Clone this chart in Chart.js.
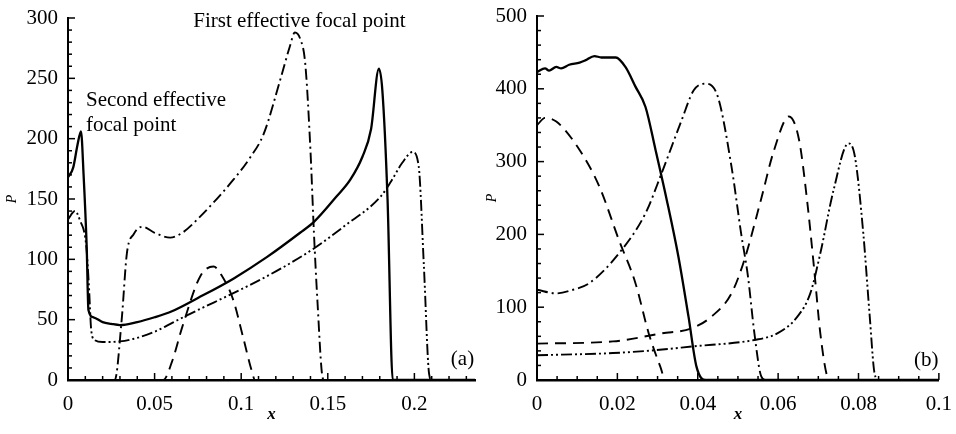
<!DOCTYPE html>
<html><head><meta charset="utf-8">
<script src="https://cdn.jsdelivr.net/npm/chart.js@4.4.1/dist/chart.umd.min.js"></script>
<style>
body{margin:0;background:#fff;width:956px;height:434px;overflow:hidden}
.w{position:absolute;top:0;height:434px}
</style></head><body>
<div class="w" style="left:0;width:480px"><canvas id="ca"></canvas></div>
<div class="w" style="left:480px;width:476px"><canvas id="cb"></canvas></div>
<script>
// ---------- Panel (a) data ----------
const aXTicks = [0, 0.05, 0.1, 0.15, 0.2];
const aYTicks = [0, 50, 100, 150, 200, 250, 300];
const aSolidX = [0, 0.003, 0.0055, 0.0075, 0.009, 0.0108, 0.0118, 0.0147, 0.02, 0.025, 0.03, 0.04, 0.05, 0.06, 0.075, 0.0955, 0.115, 0.134, 0.142, 0.155, 0.163, 0.17, 0.175, 0.1795, 0.1815, 0.1845, 0.1875, 0.19, 0.235];
const aSolidY = [168, 176, 195, 206, 170, 110, 58, 52, 48, 46.5, 45.5, 48, 52, 57, 68, 84, 102, 122, 131, 152, 166, 185, 208, 258, 240, 150, 0, 0, 0];
const aDashDotX = [0, 0.027, 0.031, 0.034, 0.038, 0.043, 0.05, 0.059, 0.066, 0.076, 0.0955, 0.105, 0.113, 0.123, 0.128, 0.131, 0.134, 0.137, 0.14, 0.142, 0.144, 0.147, 0.148, 0.235];
const aDashDotY = [0, 0, 50, 105, 121, 127, 122, 118, 122, 135, 166, 184, 204, 251, 276, 288, 283, 262, 190, 122, 66, 2, 0, 0];
const aDashX = [0, 0.055, 0.06, 0.066, 0.0764, 0.084, 0.089, 0.0955, 0.101, 0.106, 0.108, 0.235];
const aDashY = [0, 0, 15, 44, 86, 94, 86, 66, 36, 8, 0, 0];
const aDDDX = [0, 0.004, 0.007, 0.0104, 0.012, 0.0135, 0.0155, 0.02, 0.03, 0.0376, 0.05, 0.061, 0.075, 0.0955, 0.12, 0.142, 0.16, 0.1805, 0.1863, 0.193, 0.199, 0.2025, 0.2055, 0.2085, 0.21, 0.235];
const aDDDY = [133, 140, 132, 113, 80, 40, 33, 31.5, 32, 34, 40, 48, 58, 72, 90, 109, 128, 152, 164, 180, 189, 177, 94, 5, 0, 0];

// ---------- Panel (b) data ----------
const bXTicks = [0, 0.02, 0.04, 0.06, 0.08, 0.1];
const bYTicks = [0, 100, 200, 300, 400, 500];
const bSolidX = [0, 0.002, 0.003, 0.0048, 0.006, 0.008, 0.0106, 0.012, 0.0143, 0.016, 0.0196, 0.022, 0.0245, 0.027, 0.0295, 0.0323, 0.0352, 0.0377, 0.0397, 0.042, 0.1];
const bSolidY = [423, 428, 425, 430, 428, 433, 436, 439, 445, 443, 443, 430, 403, 375, 316, 247, 169, 87, 18, 0, 0];
const bDash1X = [0, 0.002, 0.0048, 0.0106, 0.0155, 0.0204, 0.0245, 0.0278, 0.0307, 0.032, 0.1];
const bDash1Y = [350, 360, 355, 316, 266, 192, 133, 64, 18, 0, 0];
const bDashDotX = [0, 0.0048, 0.009, 0.013, 0.0204, 0.027, 0.031, 0.036, 0.039, 0.0418, 0.045, 0.0484, 0.0508, 0.0525, 0.0541, 0.0558, 0.057, 0.1];
const bDashDotY = [124, 119, 124, 133, 174, 229, 284, 357, 398, 407, 389, 293, 201, 142, 64, 5, 0, 0];
const bDash2X = [0, 0.0189, 0.031, 0.0385, 0.0434, 0.0484, 0.0516, 0.0557, 0.059, 0.0627, 0.0652, 0.0672, 0.0689, 0.0705, 0.0722, 0.073, 0.1];
const bDash2Y = [50, 53, 64, 71, 87, 119, 165, 247, 316, 362, 330, 247, 156, 64, 5, 0, 0];
const bDDDX = [0, 0.0189, 0.0295, 0.0385, 0.0541, 0.0598, 0.0648, 0.068, 0.0705, 0.0738, 0.0775, 0.0791, 0.0812, 0.0828, 0.084, 0.085, 0.1];
const bDDDY = [34, 37, 41, 46, 55, 64, 87, 119, 174, 261, 325, 307, 201, 87, 9, 0, 0];

const SERIF = "'Liberation Serif','Times New Roman',serif";
const pts = (xs, ys) => xs.map((x, i) => ({x, y: ys[i]}));
const ds = (xs, ys, dash, w) => ({
  data: pts(xs, ys), borderColor: '#000', borderWidth: w, borderDash: dash,
  pointRadius: 0, cubicInterpolationMode: 'monotone', fill: false
});
const DASH = [11, 7], DD = [11, 4, 2, 4], DDD = [11, 3, 2, 3, 2, 3];
const fmt = v => String(+(+v).toFixed(4));

const inTicks = {
  id: 'inTicks',
  afterDraw(chart, args, o) {
    const ctx = chart.ctx, xs = chart.scales.x, ys = chart.scales.y, ca = chart.chartArea;
    ctx.save();
    ctx.strokeStyle = '#000';
    ctx.lineWidth = 1.5;
    const line = (x1, y1, x2, y2) => { ctx.beginPath(); ctx.moveTo(x1, y1); ctx.lineTo(x2, y2); ctx.stroke(); };
    for (let v = xs.min; v <= xs.max + 1e-9; v += o.xMinor) {
      const p = xs.getPixelForValue(v);
      const major = Math.abs(v / o.xMajor - Math.round(v / o.xMajor)) < 1e-6;
      line(p, ca.bottom, p, ca.bottom - (major ? 7 : 4));
    }
    for (let v = ys.min; v <= ys.max + 1e-9; v += o.yMinor) {
      const p = ys.getPixelForValue(v);
      const major = Math.abs(v / o.yMajor - Math.round(v / o.yMajor)) < 1e-6;
      line(ca.left, p, ca.left + (major ? 7 : 4), p);
    }
    ctx.fillStyle = '#000';
    ctx.font = '21px ' + SERIF;
    ctx.textBaseline = 'middle';
    for (const l of o.labels) {
      ctx.textAlign = l.align;
      ctx.fillText(l.text, xs.getPixelForValue(l.x), ys.getPixelForValue(l.y));
    }
    ctx.restore();
  }
};

function make(id, opts) {
  return new Chart(document.getElementById(id), {
    type: 'line',
    data: {datasets: opts.datasets},
    plugins: [inTicks],
    options: {
      responsive: true, maintainAspectRatio: false, animation: false,
      layout: {padding: opts.pad},
      plugins: {legend: {display: false}, tooltip: {enabled: false},
        inTicks: opts.ticks},
      scales: {
        x: {
          type: 'linear', min: 0, max: opts.xMax,
          afterBuildTicks: s => { s.ticks = opts.xTicks.map(v => ({value: v})); },
          afterFit: s => { s.height = 54; },
          grid: {display: false}, border: {display: true, color: '#000', width: 2.5},
          ticks: {color: '#000', padding: 4, maxRotation: 0, callback: fmt, font: {family: SERIF, size: 21}},
          title: {display: true, text: 'x', color: '#000', padding: {bottom: 9, top: 0},
            font: {family: SERIF, size: 17, style: 'italic', weight: 'bold'}}
        },
        y: {
          type: 'linear', min: 0, max: opts.yMax,
          afterBuildTicks: s => { s.ticks = opts.yTicks.map(v => ({value: v})); },
          afterFit: s => { s.width = opts.yW; },
          grid: {display: false}, border: {display: true, color: '#000', width: 2},
          ticks: {color: '#000', padding: 2, callback: fmt, font: {family: SERIF, size: 21}},
          title: {display: true, text: 'P', color: '#000', padding: {top: 4, bottom: 0},
            font: {family: SERIF, size: 14, style: 'italic'}}
        }
      }
    }
  });
}

make('ca', {
  datasets: [
    ds(aSolidX, aSolidY, [], 2.3),
    ds(aDashDotX, aDashDotY, DD, 1.9),
    ds(aDashX, aDashY, DASH, 1.9),
    ds(aDDDX, aDDDY, DDD, 1.9)
  ],
  pad: {top: 18, right: 5, left: 0, bottom: 0},
  xMax: 0.235, yMax: 300, xTicks: aXTicks, yTicks: aYTicks, yW: 68,
  ticks: {xMinor: 0.01, xMajor: 0.05, yMinor: 10, yMajor: 50, labels: [
    {text: 'First effective focal point', x: 0.0723, y: 297, align: 'left'},
    {text: 'Second effective', x: 0.0104, y: 232, align: 'left'},
    {text: 'focal point', x: 0.0104, y: 211, align: 'left'},
    {text: '(a)', x: 0.2345, y: 17, align: 'right'}
  ]}
});

make('cb', {
  datasets: [
    ds(bSolidX, bSolidY, [], 2.3),
    ds(bDash1X, bDash1Y, DASH, 1.9),
    ds(bDashDotX, bDashDotY, DD, 1.9),
    ds(bDash2X, bDash2Y, DASH, 1.9),
    ds(bDDDX, bDDDY, DDD, 1.9)
  ],
  pad: {top: 16, right: 13, left: 0, bottom: 0},
  xMax: 0.1, yMax: 500, xTicks: bXTicks, yTicks: bYTicks, yW: 57,
  ticks: {xMinor: 0.005, xMajor: 0.02, yMinor: 20, yMajor: 100, labels: [
    {text: '(b)', x: 0.0999, y: 27, align: 'right'}
  ]}
});
</script>
</body></html>
